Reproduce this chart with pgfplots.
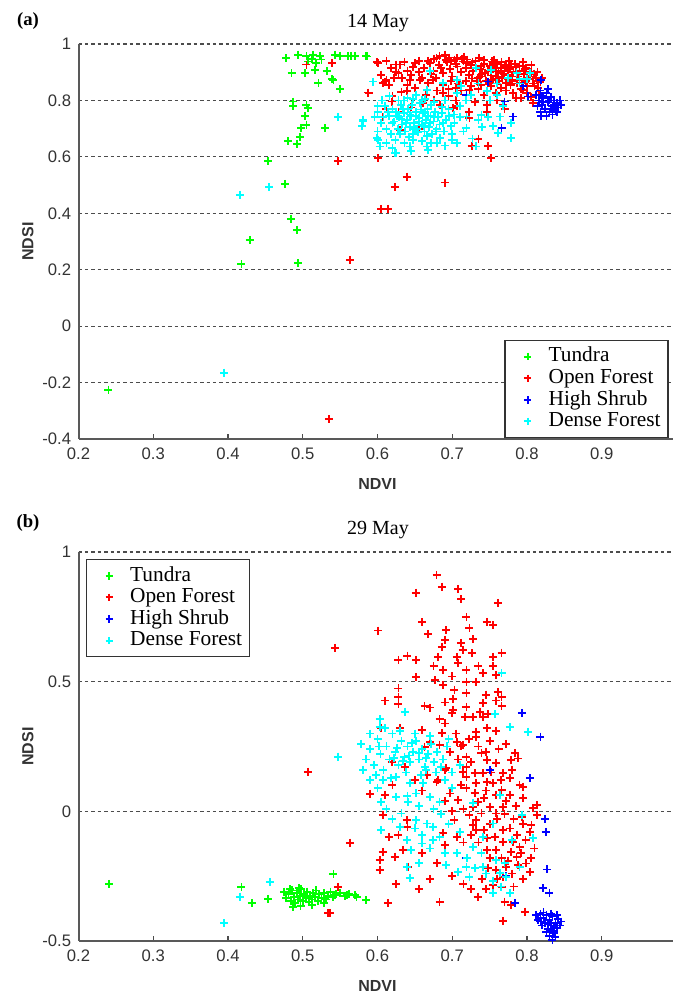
\documentclass[border=0pt]{standalone}
\usepackage{pgfplots}
\pgfplotsset{compat=1.18}
\usepackage{fontspec}
\setmainfont{Liberation Serif}
\newfontfamily\arial{Liberation Sans}
\definecolor{mgreen}{rgb}{0,1,0}
\definecolor{mred}{rgb}{1,0,0}
\definecolor{mblue}{rgb}{0,0,1}
\definecolor{mcyan}{rgb}{0,1,1}

\pgfplotsset{
  myaxis/.style={
    scale only axis, width=448.5pt,
    xmin=0.2, xmax=1,
    axis x line=bottom, axis y line=left,
    axis line style={-, draw=black!65, line width=1.5pt},
    xtick={0.2,0.3,0.4,0.5,0.6,0.7,0.8,0.9,1},
    xticklabels={0.2,0.3,0.4,0.5,0.6,0.7,0.8,0.9,1},
    xtick align=inside, major tick length=4pt,
    xtick style={draw=black!70, line width=1pt},
    ytick style={draw=none},
    ymajorgrids,
    major grid style={draw=black!70, line width=0.8pt, dash pattern=on 2.6pt off 2.2pt},
    tick label style={font=\arial\fontsize{12.5}{12.5}\selectfont, text=black!80},
    /pgf/number format/assume math mode=true,
    xticklabel style={yshift=-3pt},
    label style={font=\arial\bfseries\fontsize{12}{12}\selectfont, text=black!80},
    xlabel={NDVI}, ylabel={NDSI},
    xlabel style={at={(axis description cs:0.5,0)}, yshift=-34pt, anchor=center},
    ylabel style={at={(axis description cs:-0.0845,0.5)}, anchor=center, rotate=0},
    legend cell align=left,
    legend style={draw=black!80, line width=1pt, font=\fontsize{16}{16}\selectfont,
      inner xsep=5pt, inner ysep=4pt, row sep=0pt,
      nodes={inner sep=0.6pt, text height=11.4pt, text depth=3.6pt}},
  },
  pm/.style={only marks, mark=+, mark size=3pt, line width=1.35pt,
    legend image code/.code={\path[draw=none,fill=none] (0cm,-0.1cm) rectangle (0.95cm,0.1cm);
      \draw[##1, mark size=2.8pt, line width=1.5pt] plot coordinates {(0.42cm,0cm)};}},
  gr/.style={pm, color=mgreen, mark options={draw=mgreen}},
  rd/.style={pm, color=mred, mark options={draw=mred}},
  bl/.style={pm, color=mblue, mark options={draw=mblue}},
  cy/.style={pm, color=mcyan, mark options={draw=mcyan}},
}

\begin{document}
\begin{tikzpicture}[x=0.75pt,y=0.75pt]
% ---------------- Panel (a) ----------------
\begin{axis}[myaxis, at={(58.875pt,420.75pt)}, anchor=south west, height=296.25pt,
  ymin=-0.4, ymax=1, ytick={-0.4,-0.2,0,0.2,0.4,0.6,0.8,1},
  yticklabels={-0.4,-0.2,0,0.2,0.4,0.6,0.8,1},
  legend style={at={(axis description cs:0.987,0.251)}, anchor=north east}]
\addplot[gr] coordinates {
(0.478,0.950) (0.494,0.962) (0.505,0.958) (0.514,0.962) (0.523,0.958) (0.543,0.962)
(0.550,0.958) (0.560,0.958) (0.570,0.958) (0.586,0.956) (0.507,0.938) (0.518,0.932)
(0.485,0.897) (0.503,0.897) (0.516,0.909) (0.532,0.903) (0.521,0.862) (0.539,0.876)
(0.550,0.840) (0.487,0.796) (0.487,0.779) (0.505,0.785) (0.507,0.773) (0.503,0.746)
(0.505,0.714) (0.498,0.702) (0.530,0.702) (0.496,0.670) (0.480,0.655) (0.492,0.646)
(0.454,0.584) (0.476,0.504) (0.484,0.379) (0.492,0.341) (0.429,0.306) (0.418,0.220)
(0.494,0.223) (0.240,-0.225) (0.565,0.958) (0.585,0.958) (0.541,0.873) (0.512,0.948)
(0.525,0.945)
};
\addlegendentry{Tundra}
\addplot[rd] coordinates {
(0.505,0.927) (0.539,0.932) (0.587,0.828) (0.599,0.935) (0.605,0.891) (0.610,0.867)
(0.619,0.796) (0.607,0.743) (0.547,0.584) (0.601,0.596) (0.623,0.493) (0.605,0.416)
(0.614,0.416) (0.563,0.233) (0.625,0.927) (0.535,-0.330) (0.639,0.530) (0.690,0.509)
(0.752,0.596) (0.726,0.639) (0.748,0.639) (0.735,0.663) (0.588,0.826) (0.601,0.932)
(0.630,0.927) (0.628,0.897) (0.650,0.932) (0.643,0.873) (0.607,0.862) (0.670,0.932)
(0.679,0.950) (0.692,0.944) (0.706,0.950) (0.719,0.932) (0.739,0.921) (0.759,0.903)
(0.779,0.927) (0.790,0.921) (0.804,0.885) (0.810,0.850) (0.795,0.838) (0.781,0.826)
(0.768,0.785) (0.746,0.785) (0.706,0.779) (0.684,0.785) (0.661,0.791) (0.639,0.832)
(0.688,0.826) (0.723,0.838) (0.710,0.862) (0.674,0.873) (0.657,0.873) (0.737,0.885)
(0.755,0.873) (0.772,0.862) (0.786,0.873) (0.808,0.791) (0.792,0.808) (0.630,0.696)
(0.723,0.738) (0.701,0.773)
(0.662,0.915) (0.668,0.940) (0.675,0.905) (0.682,0.925) (0.688,0.898) (0.693,0.935)
(0.697,0.912) (0.700,0.885) (0.703,0.945) (0.707,0.920) (0.712,0.900) (0.715,0.938)
(0.718,0.915) (0.722,0.890) (0.725,0.925) (0.728,0.905) (0.731,0.940) (0.734,0.880)
(0.737,0.912) (0.740,0.895) (0.742,0.930) (0.745,0.870) (0.748,0.905) (0.750,0.922)
(0.752,0.888) (0.755,0.912) (0.758,0.875) (0.760,0.930) (0.762,0.898) (0.765,0.915)
(0.767,0.880) (0.770,0.905) (0.772,0.925) (0.775,0.890) (0.777,0.910) (0.780,0.870)
(0.782,0.900) (0.785,0.918) (0.788,0.885) (0.790,0.905) (0.793,0.862) (0.796,0.895)
(0.799,0.915) (0.802,0.875) (0.805,0.900) (0.808,0.860) (0.812,0.880) (0.815,0.845)
(0.718,0.868) (0.708,0.860) (0.698,0.870) (0.688,0.855) (0.678,0.880) (0.668,0.862)
(0.655,0.900) (0.648,0.918) (0.640,0.905) (0.633,0.880) (0.625,0.900) (0.618,0.915)
(0.612,0.872) (0.738,0.855) (0.752,0.850) (0.765,0.845) (0.778,0.855) (0.792,0.840)
(0.742,0.818) (0.758,0.825) (0.772,0.835) (0.735,0.840) (0.725,0.850) (0.712,0.835)
(0.695,0.815) (0.680,0.835) (0.665,0.820) (0.650,0.845) (0.632,0.830) (0.620,0.815)
(0.660,0.790) (0.645,0.775) (0.676,0.800) (0.705,0.800) (0.730,0.795) (0.760,0.800)
(0.785,0.810) (0.800,0.825) (0.818,0.865) (0.814,0.900) (0.806,0.925) (0.795,0.935)
(0.776,0.940) (0.756,0.945) (0.736,0.950) (0.716,0.955) (0.696,0.952) (0.676,0.948)
(0.656,0.940) (0.636,0.935) (0.612,0.940) (0.628,0.760) (0.612,0.770) (0.655,0.700)
(0.722,0.760) (0.746,0.760) (0.770,0.770)
(0.683,0.958) (0.690,0.962) (0.698,0.940) (0.713,0.948) (0.727,0.935) (0.743,0.944)
(0.757,0.930) (0.771,0.918) (0.784,0.928) (0.797,0.910) (0.809,0.895) (0.820,0.880)
(0.744,0.898) (0.733,0.868) (0.726,0.878) (0.749,0.860) (0.761,0.885) (0.774,0.875)
(0.787,0.860) (0.800,0.850) (0.763,0.868) (0.753,0.938) (0.766,0.935) (0.720,0.945)
(0.705,0.930) (0.685,0.915) (0.672,0.895) (0.660,0.880) (0.645,0.890) (0.622,0.880)
(0.615,0.855) (0.640,0.855) (0.705,0.845) (0.695,0.840) (0.815,0.870) (0.816,0.820)
(0.805,0.812) (0.798,0.870) (0.780,0.885) (0.769,0.895)
};
\addlegendentry{Open Forest}
\addplot[bl] coordinates {
(0.748,0.867) (0.719,0.820) (0.770,0.796) (0.781,0.743) (0.766,0.702) (0.819,0.873)
(0.801,0.814) (0.795,0.850) (0.819,0.746)
(0.812,0.820) (0.816,0.800) (0.818,0.835) (0.820,0.785) (0.822,0.810) (0.824,0.770)
(0.826,0.825) (0.828,0.795) (0.830,0.760) (0.832,0.812) (0.834,0.780) (0.836,0.800)
(0.838,0.765) (0.840,0.790) (0.842,0.775) (0.844,0.800) (0.826,0.745) (0.834,0.750)
(0.818,0.760) (0.828,0.840) (0.822,0.795) (0.830,0.800) (0.836,0.785) (0.814,0.780)
(0.840,0.760) (0.832,0.770) (0.820,0.815) (0.845,0.785)
};
\addlegendentry{High Shrub}
\addplot[cy] coordinates {
(0.416,0.466) (0.455,0.492) (0.547,0.740) (0.581,0.732) (0.579,0.710) (0.594,0.867)
(0.600,0.779) (0.599,0.667) (0.603,0.637) (0.623,0.614) (0.395,-0.165) (0.581,0.726)
(0.601,0.661) (0.625,0.613) (0.643,0.637) (0.666,0.637) (0.706,0.649) (0.732,0.637)
(0.739,0.749) (0.719,0.743) (0.719,0.702) (0.764,0.743) (0.761,0.684) (0.779,0.667)
(0.779,0.720) (0.755,0.708) (0.804,0.897) (0.768,0.779) (0.746,0.832) (0.706,0.826)
(0.688,0.862) (0.670,0.903) (0.666,0.838) (0.732,0.915) (0.752,0.909) (0.786,0.897)
(0.706,0.873)
(0.600,0.760) (0.605,0.720) (0.610,0.780) (0.612,0.700) (0.615,0.745) (0.618,0.680)
(0.620,0.770) (0.622,0.725) (0.625,0.760) (0.627,0.700) (0.629,0.740) (0.631,0.785)
(0.633,0.715) (0.635,0.755) (0.637,0.690) (0.639,0.730) (0.641,0.770) (0.643,0.705)
(0.645,0.745) (0.647,0.680) (0.649,0.720) (0.651,0.760) (0.653,0.700) (0.655,0.738)
(0.657,0.790) (0.659,0.715) (0.661,0.755) (0.663,0.690) (0.665,0.730) (0.667,0.770)
(0.669,0.705) (0.671,0.745) (0.673,0.680) (0.675,0.725) (0.677,0.760) (0.679,0.700)
(0.681,0.740) (0.683,0.715) (0.686,0.755) (0.689,0.690) (0.692,0.730) (0.695,0.770)
(0.698,0.710) (0.702,0.750) (0.606,0.800) (0.616,0.815) (0.628,0.800) (0.640,0.810)
(0.652,0.820) (0.664,0.805) (0.676,0.795) (0.690,0.800) (0.612,0.650) (0.624,0.660)
(0.636,0.650) (0.648,0.660) (0.660,0.655) (0.672,0.648) (0.684,0.668) (0.632,0.735)
(0.644,0.750) (0.656,0.725) (0.668,0.745) (0.650,0.700) (0.662,0.710) (0.638,0.720)
(0.626,0.745) (0.658,0.768) (0.646,0.785) (0.634,0.770) (0.670,0.720) (0.600,0.690)
(0.596,0.740) (0.710,0.780) (0.718,0.800) (0.725,0.820) (0.735,0.860) (0.712,0.850)
(0.760,0.860) (0.775,0.880) (0.790,0.875) (0.750,0.800) (0.700,0.680) (0.715,0.690)
(0.690,0.640) (0.740,0.705) (0.727,0.665)
(0.630,0.680) (0.642,0.670) (0.654,0.688) (0.666,0.675) (0.678,0.690) (0.635,0.800)
(0.647,0.805) (0.660,0.800) (0.672,0.785) (0.686,0.778) (0.620,0.720) (0.608,0.740)
(0.614,0.760) (0.652,0.745) (0.664,0.760) (0.676,0.740) (0.688,0.720) (0.696,0.745)
(0.703,0.720) (0.710,0.740) (0.620,0.630) (0.645,0.620) (0.668,0.625) (0.680,0.650)
(0.700,0.660) (0.735,0.730) (0.748,0.740) (0.790,0.860) (0.800,0.875) (0.760,0.820)
};
\addlegendentry{Dense Forest}
\end{axis}

% ---------------- Panel (b) ----------------
\begin{axis}[myaxis, at={(58.875pt,44.25pt)}, anchor=south west, height=291.75pt,
  ymin=-0.5, ymax=1, ytick={-0.5,0,0.5,1}, yticklabels={-0.5,0,0.5,1},
  legend style={at={(axis description cs:0.0125,0.982)}, anchor=north west}]
\addplot[gr] coordinates {
(0.241,-0.280) (0.418,-0.293) (0.432,-0.355) (0.454,-0.339) (0.541,-0.243) (0.543,-0.323)
(0.559,-0.323) (0.572,-0.329) (0.585,-0.342)
(0.475,-0.310) (0.478,-0.335) (0.481,-0.320) (0.484,-0.345) (0.486,-0.305) (0.488,-0.330)
(0.490,-0.355) (0.492,-0.315) (0.494,-0.340) (0.496,-0.325) (0.498,-0.300) (0.500,-0.345)
(0.502,-0.320) (0.504,-0.335) (0.506,-0.310) (0.508,-0.350) (0.510,-0.325) (0.512,-0.340)
(0.514,-0.315) (0.516,-0.330) (0.518,-0.305) (0.520,-0.345) (0.522,-0.320) (0.525,-0.335)
(0.528,-0.315) (0.531,-0.340) (0.534,-0.325) (0.537,-0.310) (0.540,-0.330) (0.545,-0.320)
(0.550,-0.315) (0.556,-0.325) (0.562,-0.318) (0.570,-0.322) (0.487,-0.370) (0.497,-0.365)
(0.512,-0.360) (0.528,-0.355) (0.483,-0.300) (0.495,-0.295)
};
\addlegendentry{Tundra}
\addplot[rd] coordinates {
(0.679,0.911) (0.686,0.866) (0.708,0.856) (0.712,0.818) (0.651,0.843) (0.761,0.804)
(0.601,0.697) (0.543,0.630) (0.719,0.748) (0.723,0.706) (0.746,0.731) (0.755,0.718)
(0.692,0.699) (0.668,0.684) (0.690,0.661) (0.728,0.663) (0.686,0.635) (0.714,0.622)
(0.726,0.609) (0.681,0.596) (0.706,0.596) (0.766,0.612) (0.755,0.596) (0.628,0.584)
(0.652,0.584) (0.708,0.571) (0.719,0.545) (0.755,0.560) (0.688,0.545) (0.741,0.532)
(0.759,0.526) (0.652,0.517) (0.677,0.506) (0.688,0.487) (0.719,0.500) (0.732,0.500)
(0.628,0.474) (0.703,0.468) (0.719,0.457) (0.761,0.461) (0.766,0.442) (0.628,0.442)
(0.610,0.427) (0.628,0.414) (0.701,0.432) (0.741,0.417) (0.759,0.427) (0.663,0.406)
(0.766,0.406) (0.719,0.403) (0.701,0.391) (0.737,0.384) (0.717,0.365) (0.728,0.365)
(0.741,0.365) (0.748,0.375) (0.683,0.355) (0.690,0.339) (0.746,0.320) (0.759,0.311)
(0.732,0.307) (0.686,0.301) (0.732,0.288) (0.706,0.268) (0.714,0.256) (0.683,0.256)
(0.670,0.268) (0.605,0.320) (0.630,0.320) (0.697,0.230) (0.719,0.211) (0.739,0.224)
(0.746,0.198) (0.759,0.185) (0.784,0.224) (0.788,0.204) (0.779,0.198) (0.619,0.191)
(0.637,0.172) (0.692,0.166) (0.719,0.172) (0.730,0.147) (0.768,0.147) (0.663,0.249)
(0.659,0.314)
(0.590,0.067) (0.563,-0.121) (0.610,0.063) (0.607,-0.014) (0.639,-0.034) (0.628,-0.091)
(0.607,-0.156) (0.634,-0.149) (0.603,-0.188) (0.623,-0.175) (0.603,-0.226) (0.641,-0.214)
(0.614,-0.355) (0.683,-0.349) (0.679,0.114) (0.690,0.159) (0.719,0.133) (0.732,0.108)
(0.746,0.114) (0.755,0.108) (0.766,0.082) (0.777,0.063) (0.759,0.063) (0.743,0.050)
(0.734,0.037) (0.728,0.018) (0.750,0.018) (0.768,0.018) (0.739,-0.008) (0.759,-0.008)
(0.732,-0.034) (0.703,-0.034) (0.688,-0.085) (0.706,-0.098) (0.732,-0.072) (0.743,-0.072)
(0.746,-0.104) (0.757,-0.098) (0.768,-0.072) (0.777,-0.066) (0.768,-0.117) (0.781,-0.117)
(0.790,-0.137) (0.746,-0.149) (0.759,-0.149) (0.779,-0.156) (0.750,-0.181) (0.766,-0.181)
(0.786,-0.175) (0.748,-0.220) (0.772,-0.214) (0.759,-0.226) (0.788,-0.207) (0.799,-0.201)
(0.804,-0.233) (0.768,-0.252) (0.755,-0.284) (0.766,-0.291) (0.734,-0.329) (0.770,-0.349)
(0.779,-0.361) (0.768,-0.422) (0.797,-0.387) (0.793,-0.021) (0.808,0.012) (0.813,-0.014)
(0.806,-0.053) (0.804,-0.079) (0.808,-0.104) (0.810,-0.143) (0.813,0.024) (0.723,-0.014)
(0.728,-0.053) (0.708,0.044) (0.697,0.069) (0.712,0.101) (0.719,0.089) (0.681,0.121)
(0.666,0.140) (0.714,0.153) (0.741,0.147) (0.777,0.127) (0.795,0.095)
(0.507,0.153) (0.534,-0.393) (0.547,-0.291) (0.536,-0.392)
(0.705,0.300) (0.712,0.250) (0.722,0.280) (0.735,0.250) (0.750,0.270) (0.762,0.240)
(0.772,0.260) (0.708,0.200) (0.725,0.190) (0.745,0.230) (0.752,0.150) (0.765,0.120)
(0.780,0.160) (0.790,0.100) (0.772,0.040) (0.785,0.020) (0.795,0.050) (0.782,-0.030)
(0.795,-0.050) (0.787,-0.090) (0.798,-0.110) (0.775,-0.190) (0.792,-0.160) (0.805,-0.180)
(0.780,-0.240) (0.795,-0.260) (0.782,-0.290) (0.760,-0.260) (0.740,-0.260) (0.745,-0.300)
(0.725,-0.300) (0.715,-0.280) (0.700,-0.250) (0.690,-0.130) (0.715,-0.120) (0.725,-0.090)
(0.735,-0.120) (0.750,-0.050) (0.760,-0.030) (0.770,-0.010) (0.745,0.080) (0.730,0.070)
(0.715,0.010) (0.700,0.000) (0.690,0.040) (0.660,0.080) (0.650,0.120) (0.620,0.100)
(0.640,-0.060) (0.615,-0.100) (0.660,-0.160) (0.680,-0.200) (0.670,-0.260) (0.655,-0.300)
(0.625,-0.280) (0.700,0.380) (0.690,0.420) (0.745,0.450) (0.735,0.560) (0.700,0.520)
(0.675,0.560) (0.712,0.650) (0.660,0.730) (0.640,0.600) (0.670,0.400)
};
\addlegendentry{Open Forest}
\addplot[bl] coordinates {
(0.793,0.380) (0.818,0.288) (0.750,0.159) (0.804,0.127) (0.824,-0.031) (0.825,-0.079)
(0.827,-0.224) (0.821,-0.297) (0.830,-0.316) (0.719,-0.181) (0.784,-0.355) (0.772,-0.250)
(0.812,-0.400) (0.815,-0.420) (0.818,-0.395) (0.820,-0.440) (0.822,-0.410) (0.824,-0.430)
(0.826,-0.400) (0.828,-0.455) (0.830,-0.420) (0.832,-0.440) (0.834,-0.405) (0.836,-0.470)
(0.838,-0.430) (0.840,-0.450) (0.842,-0.415) (0.844,-0.440) (0.830,-0.480) (0.834,-0.495)
(0.838,-0.485) (0.826,-0.465) (0.822,-0.390) (0.832,-0.395) (0.840,-0.400) (0.846,-0.425)
(0.828,-0.435) (0.836,-0.445) (0.818,-0.425) (0.835,-0.460)
};
\addlegendentry{High Shrub}
\addplot[cy] coordinates {
(0.766,0.532) (0.637,0.384) (0.757,0.375) (0.777,0.324) (0.801,0.307) (0.603,0.355)
(0.603,0.326) (0.547,0.211) (0.581,0.159)
(0.607,0.121) (0.625,0.133) (0.643,0.108) (0.652,0.069) (0.661,0.108) (0.670,0.056)
(0.683,0.037) (0.605,0.037) (0.625,0.056) (0.641,0.037) (0.632,-0.008) (0.652,-0.034)
(0.666,-0.047) (0.650,-0.066) (0.674,-0.059) (0.605,-0.072) (0.683,-0.098) (0.639,-0.111)
(0.659,-0.124) (0.670,-0.143) (0.674,-0.111) (0.690,-0.162) (0.692,-0.207) (0.706,-0.162)
(0.708,-0.233) (0.719,-0.214) (0.723,-0.252) (0.728,-0.137) (0.741,-0.098) (0.739,-0.162)
(0.755,-0.047) (0.759,-0.188) (0.764,-0.239) (0.772,-0.252) (0.777,-0.316) (0.755,-0.316)
(0.643,-0.258) (0.639,-0.214) (0.793,-0.014) (0.808,-0.104) (0.790,-0.214) (0.764,0.063)
(0.728,0.031) (0.741,-0.214)
(0.456,-0.272) (0.416,-0.329) (0.395,-0.432)
(0.585,0.200) (0.590,0.240) (0.595,0.180) (0.600,0.280) (0.604,0.220) (0.608,0.160)
(0.612,0.250) (0.616,0.200) (0.620,0.300) (0.624,0.230) (0.628,0.180) (0.632,0.270)
(0.636,0.210) (0.640,0.250) (0.644,0.190) (0.648,0.230) (0.652,0.270) (0.656,0.200)
(0.660,0.240) (0.664,0.170) (0.668,0.220) (0.672,0.260) (0.676,0.190) (0.680,0.230)
(0.610,0.320) (0.630,0.310) (0.650,0.300) (0.670,0.290) (0.598,0.140) (0.618,0.130)
(0.638,0.150) (0.658,0.140) (0.678,0.150) (0.626,0.245) (0.642,0.215) (0.634,0.195)
(0.646,0.265) (0.655,0.225) (0.622,0.205) (0.665,0.205) (0.602,0.250) (0.590,0.300)
(0.578,0.260) (0.688,0.200) (0.693,0.250)
(0.690,0.120) (0.700,0.150) (0.710,0.180) (0.695,0.280) (0.700,0.090) (0.685,-0.010)
(0.695,-0.050) (0.710,-0.080) (0.720,-0.180) (0.730,-0.220) (0.745,-0.240) (0.755,-0.270)
(0.765,-0.290) (0.770,-0.200) (0.780,-0.110) (0.660,-0.090) (0.645,-0.150) (0.655,-0.200)
(0.630,-0.060) (0.620,-0.030) (0.612,0.010) (0.600,0.090) (0.590,0.120) (0.640,0.060)
(0.655,0.020) (0.675,0.010) (0.665,0.160) (0.685,0.170)
};
\addlegendentry{Dense Forest}
\end{axis}

% titles and panel letters
\node[font=\fontsize{15}{15}\selectfont] at (378,977) {14 May};
\node[font=\bfseries\fontsize{14}{14}\selectfont] at (28,979) {(a)};
\node[font=\fontsize{15}{15}\selectfont] at (378,470) {29 May};
\node[font=\bfseries\fontsize{14}{14}\selectfont] at (28,477) {(b)};

\pgfresetboundingbox
\path[use as bounding box] (0,0) rectangle (673,1000);
\end{tikzpicture}
\end{document}
